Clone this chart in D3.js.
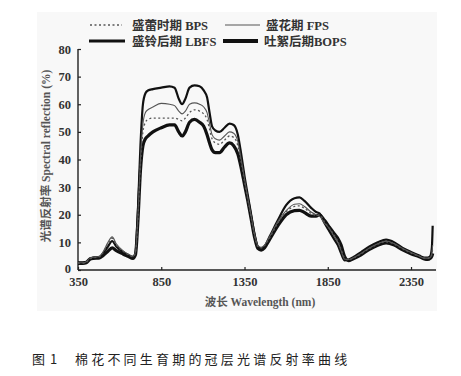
<!DOCTYPE html>
<html><head><meta charset="utf-8">
<script src="https://cdn.jsdelivr.net/npm/d3@7/dist/d3.min.js"></script>
<style>
html,body{margin:0;padding:0;background:#fff;}
svg{display:block;}
</style></head>
<body>
<script>
const wavelengths = [350,380,400,420,440,480,500,530,555,580,620,650,680,695,710,725,740,755,770,800,850,900,930,955,975,995,1020,1050,1080,1105,1125,1140,1155,1175,1200,1230,1260,1285,1310,1330,1350,1370,1390,1410,1430,1450,1470,1500,1550,1600,1650,1680,1710,1750,1780,1800,1830,1860,1890,1910,1930,1950,1975,2000,2050,2100,2150,2200,2250,2300,2350,2400,2430,2450,2465,2475,2480];

const bps  = [2.5,2.5,2.8,4,4.4,4.8,6.2,9.5,11.5,9,6.8,5.6,4.8,6.2,19,38,50,53.5,54.5,55,55,55,55,54.5,54,55,57,58,57.5,56.5,54.5,51,47.5,46,45.5,47,48.5,48,45,39,32,25.5,19,12.5,8.5,8,8.8,11.5,17,21,23,23.2,22.3,20.5,19.8,20,17.5,15,12.5,10.5,7.5,4.5,3.6,4.2,5.8,7.8,9.3,10.2,9.3,7.6,6.1,5,4.3,4.2,4.5,5.5,8];
const fps  = [2.6,2.6,3,4.3,4.6,5,6.5,10,12,9.5,7,5.8,5,6.5,20,40,53,57,58,59,60.3,60,59.5,57.5,56.5,57.5,60,60.5,60,59,57,53,49,47.5,47,48.5,50,49.5,46.5,40,33,26,19.5,13,8.8,8.2,9,12,17.5,21.5,23.8,24,23,21,20,19.5,17,15,12,10,7,4,3.8,4.3,6,8,9.5,10.5,9.5,7.8,6.3,5,4.3,4.3,4.5,6,9];
const lbfs = [2.8,2.8,3,4.2,4.5,4.8,6,8.5,10.5,8.5,6.5,5.5,4.8,6,22,45,60,64,65,65.5,66,66.5,66,62,60,62,66,66.8,66.5,65,62.5,57,52,50.5,50,51.5,53,52.5,49,42,34,27,20,13,8.5,7.8,8.5,12,18,23.5,26,26.3,25,22.5,21,20.5,17,14,11,9,6,3.5,3.8,4.5,6.5,8.5,10,11,10,8,6.5,5.2,4.5,4.5,5,8,16];
const bops = [2.4,2.4,2.6,3.8,4.2,4.4,5.2,6.8,8,7,5.8,5,4.2,5.5,18,36,45,47.5,48.5,50,51.5,52.5,52.5,50,48.5,50,53.5,54.5,53.5,52,49,46,43.5,42.5,42.5,44.5,46,45,42,37,31,25,18.5,12,7.8,7.2,8,11,16,20,21.5,21.6,20.8,19.5,19.5,20,18,15.5,13,11.5,9,5,3.4,4,5.5,7.5,9,9.8,9,7.3,5.9,4.8,4,3.8,4.2,5,6];

const seriesNames = ["盛蕾时期 BPS","盛花期 FPS","盛铃后期 LBFS","吐絮后期BOPS"];
const xTicks = [350,850,1350,1850,2350];
const yTicks = [0,10,20,30,40,50,60,70,80];

const W = 461, H = 376;
const svg = d3.select("body").append("svg").attr("width",W).attr("height",H);

svg.append("rect").attr("x",37).attr("y",12).attr("width",400).attr("height",299).attr("fill","#f8f8f8");

const x = d3.scaleLinear().domain([350,2500]).range([78,436]);
const y = d3.scaleLinear().domain([0,80]).range([270,49]);

const serif = "'Liberation Serif','Times New Roman',serif";
const cjk = "'Liberation Serif','Noto Sans CJK SC',serif";

// axes
const xAxis = d3.axisBottom(x).tickValues(xTicks).tickSize(-3).tickPadding(7).tickFormat(d3.format("d"));
const gx = svg.append("g").attr("transform","translate(0,270)").call(xAxis);
gx.select(".domain").attr("d","M78,0H436").attr("stroke","#222").attr("stroke-width",1.4);
gx.selectAll(".tick line").attr("stroke","#222").attr("stroke-width",1.2);
gx.selectAll(".tick text").attr("font-family",serif).attr("font-weight","bold").attr("font-size","12.5px").attr("fill","#333");

const yAxis = d3.axisLeft(y).tickValues(yTicks).tickSize(-3).tickPadding(7);
const gy = svg.append("g").attr("transform","translate(78,0)").call(yAxis);
gy.select(".domain").attr("d","M0,270V49").attr("stroke","#222").attr("stroke-width",1.4);
gy.selectAll(".tick line").attr("stroke","#222").attr("stroke-width",1.2);
gy.selectAll(".tick text").attr("font-family",serif).attr("font-weight","bold").attr("font-size","12.5px").attr("fill","#333");
gy.selectAll(".tick").filter(d=>d===0).select("text").attr("dy","0.2em");

// lines
const styles = [
  {data:bps,  stroke:"#555", w:1.3, dash:"2,2.5"},
  {data:fps,  stroke:"#555", w:1.1, dash:null},
  {data:lbfs, stroke:"#111", w:2.2, dash:null},
  {data:bops, stroke:"#111", w:3.2, dash:null}
];
const line = d3.line().x((d,i)=>x(wavelengths[i])).y(d=>y(d)).curve(d3.curveMonotoneX);
const order = [3,2,1,0];
order.forEach(k=>{
  const s = styles[k];
  svg.append("path").datum(s.data).attr("d",line).attr("fill","none")
    .attr("stroke",s.stroke).attr("stroke-width",s.w).attr("stroke-linejoin","round")
    .attr("stroke-dasharray",s.dash);
});

// legend
const leg = [
  {lx1:90, lx2:122, ly:25, tx:132, ty:30},
  {lx1:225,lx2:260, ly:25, tx:266, ty:30},
  {lx1:89, lx2:125, ly:41, tx:132, ty:46},
  {lx1:223,lx2:258, ly:41, tx:264, ty:46}
];
leg.forEach((L,i)=>{
  const s = styles[i];
  svg.append("line").attr("x1",L.lx1).attr("x2",L.lx2).attr("y1",L.ly).attr("y2",L.ly)
    .attr("stroke",s.stroke).attr("stroke-width",s.w+(i>=2?0.6:0)).attr("stroke-dasharray",s.dash);
  svg.append("text").attr("x",L.tx).attr("y",L.ty).attr("font-family",cjk).attr("font-weight","bold")
    .attr("font-size","12.5px").attr("fill","#333").text(seriesNames[i]);
});

// axis titles
svg.append("text").attr("x",260).attr("y",306).attr("text-anchor","middle")
  .attr("font-family",cjk).attr("font-weight","bold").attr("font-size","11.5px").attr("fill","#555")
  .text("波长 Wavelength (nm)");
svg.append("text").attr("transform","translate(50,156) rotate(-90)").attr("text-anchor","middle")
  .attr("font-family",cjk).attr("font-weight","bold").attr("font-size","11.5px").attr("fill","#555")
  .text("光谱反射率 Spectral reflection (%)");

// caption
svg.append("text").attr("x",32).attr("y",364).attr("font-family","'Noto Sans CJK SC',sans-serif")
  .attr("font-size","13px").attr("fill","#222").attr("letter-spacing","1px").text("图 1");
svg.append("text").attr("x",75).attr("y",364).attr("font-family","'Noto Sans CJK SC',sans-serif")
  .attr("font-size","13px").attr("fill","#222").attr("letter-spacing","3.2px").text("棉花不同生育期的冠层光谱反射率曲线");
</script>
</body></html>
